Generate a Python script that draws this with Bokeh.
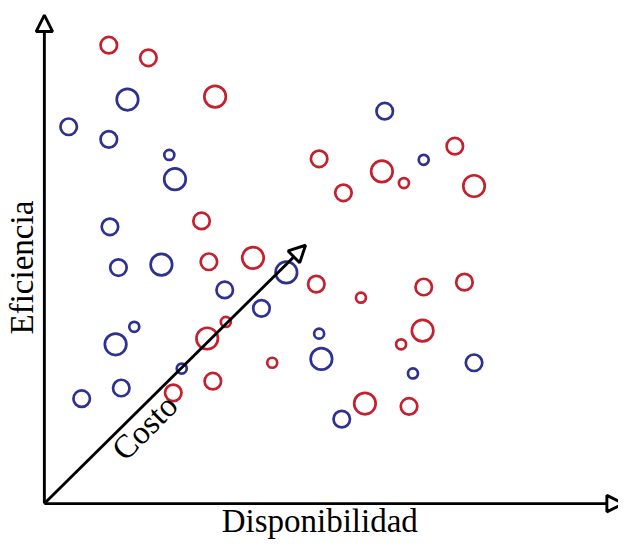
from bokeh.plotting import figure
from bokeh.models import Range1d, Arrow, NormalHead, Label, ColumnDataSource
from bokeh.embed import file_html
from bokeh.resources import INLINE

# ---- data (Disponibilidad, Eficiencia, Costo class 1..3) ----
red_x = [11.4, 18.4, 30.2, 27.8, 48.6, 72.6, 59.7, 63.6, 52.9, 76.0,
         29.1, 36.9, 48.1, 56.0, 67.1, 74.3, 32.1, 28.8, 40.3, 22.8,
         29.8, 63.1, 66.9, 56.7, 64.5]
red_y = [94.4, 91.8, 83.8, 58.2, 71.0, 73.6, 68.4, 66.0, 64.0, 65.4,
         49.8, 50.6, 45.2, 42.4, 44.6, 45.6, 37.4, 34.0, 29.0, 22.8,
         25.2, 32.8, 35.6, 20.6, 20.0]
red_cost = [2, 2, 3, 2, 2, 2, 3, 1, 2, 3,
            2, 3, 2, 1, 2, 2, 1, 3, 1, 2,
            2, 1, 3, 3, 2]

blue_x = [14.7, 4.3, 11.4, 22.1, 23.1, 11.6, 60.2, 67.1, 13.1, 20.7,
          31.9, 42.8, 38.4, 15.9, 12.6, 24.3, 13.6, 6.6, 48.6, 49.0,
          65.2, 76.0, 52.6]
blue_y = [83.2, 77.6, 75.0, 71.8, 66.8, 57.0, 80.8, 70.8, 48.6, 49.2,
          44.0, 47.6, 40.2, 36.4, 32.8, 27.8, 23.8, 21.6, 35.0, 29.8,
          26.8, 29.0, 17.4]
blue_cost = [3, 2, 2, 1, 3, 2, 2, 1, 2, 3,
             2, 3, 2, 1, 3, 1, 2, 2, 1, 3,
             1, 2, 2]

x_label = "Disponibilidad"
y_label = "Eficiencia"
z_label = "Costo"

RED = "#C4212E"
BLUE = "#2E3192"
SIZE_PX = {1: 10, 2: 16.5, 3: 21.5}

# data unit -> reference pixel: x_px = 45 + 5.8*x, y_px = 518 - 5.0*y
# the whole 634x556 reference area is fitted into the 618x540 figure
p = figure(width=618, height=540,
           x_range=Range1d(-45 / 5.8, 589 / 5.8),
           y_range=Range1d(-38 / 5.0, 518 / 5.0),
           x_axis_type=None, y_axis_type=None,
           output_backend="svg", toolbar_location=None,
           min_border=0)
p.grid.visible = False
p.outline_line_color = None
p.background_fill_color = "white"

for xs, ys, cs, col in ((red_x, red_y, red_cost, RED), (blue_x, blue_y, blue_cost, BLUE)):
    src = ColumnDataSource(dict(x=xs, y=ys, s=[SIZE_PX[c] for c in cs]))
    p.scatter("x", "y", size="s", source=src, marker="circle",
              fill_color=None, line_color=col, line_width=2.7)

def axis_arrow(x1, y1):
    p.add_layout(Arrow(x_start=0, y_start=0, x_end=x1, y_end=y1,
                       line_width=2.9, line_color="black",
                       end=NormalHead(size=16.5, fill_color="white",
                                      line_color="black", line_width=2.9)))

axis_arrow(0, (518 - 15) / 5.0)                   # Eficiencia
axis_arrow((639 - 45) / 5.8, 0)                   # Disponibilidad
axis_arrow((313 - 45) / 5.8, (518 - 252) / 5.0)   # Costo

font = "Liberation Serif"
fs = "33px"
p.add_layout(Label(x=(327.5 - 45) / 5.8, y=(518 - 536) / 5.0, text=x_label,
                   text_font=font, text_font_size=fs, text_color="black",
                   text_align="center", text_baseline="alphabetic"))
p.add_layout(Label(x=(22 - 45) / 5.8, y=(518 - 275) / 5.0, text=y_label,
                   angle=1.5708, text_font=font, text_font_size=fs,
                   text_color="black", text_align="center",
                   text_baseline="alphabetic"))
p.add_layout(Label(x=(148 - 45) / 5.8, y=(518 - 439.5) / 5.0, text=z_label,
                   angle=0.7854, text_font=font, text_font_size=fs,
                   text_color="black", text_align="center",
                   text_baseline="alphabetic"))

open("out.html", "w").write(file_html(p, INLINE))
